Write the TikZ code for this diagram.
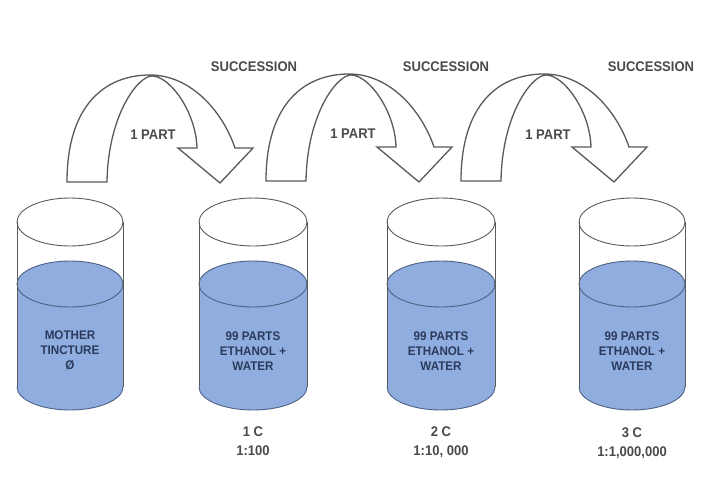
\documentclass[tikz,border=0pt]{standalone}
\usepackage{fontspec}
\newfontfamily\labfont[FakeStretch=0.93]{Liberation Sans}
\definecolor{liquid}{HTML}{8FAEDF}
\definecolor{liqline}{HTML}{4F6185}
\definecolor{glass}{HTML}{5A5A5A}
\definecolor{labgrey}{HTML}{4A4A4A}
\definecolor{navy}{HTML}{2B3A5C}
\tikzset{
  arrowline/.style={draw=glass, line width=1.3pt, line join=miter, fill=white},
  glassline/.style={draw=glass, line width=0.9pt},
  liqedge/.style={draw=liqline, line width=0.9pt},
  lab/.style={font=\labfont\bfseries\fontsize{14}{19}\selectfont, text=labgrey, inner sep=0pt, align=center},
  inlab/.style={font=\labfont\bfseries\fontsize{12.5}{15}\selectfont, text=navy, inner sep=0pt, align=center},
}
\begin{document}
\begin{tikzpicture}[x=1pt,y=-1pt]
\useasboundingbox (0,0) rectangle (720,480);
\fill[white] (0,0) rectangle (720,480);
% beakers
\foreach \i/\cx/\rx in {1/70/53,2/253/54,3/441/54,4/632/53} {
  \fill[liquid] (\cx-\rx,284) rectangle (\cx+\rx,387);
  \fill[liquid] (\cx,284) ellipse[x radius=\rx, y radius=23];
  \fill[liquid] (\cx,387) ellipse[x radius=\rx, y radius=23];
  \draw[liqedge] (\cx,284) ellipse[x radius=\rx, y radius=23];
  \draw[liqedge] (\cx-\rx,387) arc[start angle=180, end angle=0, x radius=\rx, y radius=23];
  \draw[glassline] (\cx,222) ellipse[x radius=\rx, y radius=24];
  \draw[glassline] (\cx-\rx,222) -- (\cx-\rx,387);
  \draw[glassline] (\cx+\rx,222) -- (\cx+\rx,387);
  \coordinate (b\i) at (\cx,222);
}
% beaker texts
\node[inlab] (t1) at (70,350) {MOTHER\\TINCTURE\\Ø};
\node[inlab] (t2) at (253,351) {99 PARTS\\ETHANOL +\\WATER};
\node[inlab] (t3) at (441,351) {99 PARTS\\ETHANOL +\\WATER};
\node[inlab] (t4) at (632,351) {99 PARTS\\ETHANOL +\\WATER};
% dilution labels
\node[lab] (c1) at (253,441) {1 C\\1:100};
\node[lab] (c2) at (441,442) {2 C\\1:10, 000};
\node[lab] (c3) at (632,443) {3 C\\1:1,000,000};
% curved arrows
\foreach \k/\dx/\dy in {1/0/0,2/199/-1,3/394/-1} {
  \begin{scope}[shift={(\dx,\dy)}]
    \draw[arrowline] (67,182) .. controls (67,105) and (105,75) .. (150,75)
      .. controls (190,75) and (222,110) .. (235,148) -- (253,148) -- (220,183)
      -- (178,148) -- (197,148) .. controls (196,112) and (170,76) .. (152,76)
      .. controls (138,76) and (108,115) .. (107,182) -- cycle;
  \end{scope}
}
\node[lab] (s1) at (254,67) {SUCCESSION};
\node[lab] (s2) at (446,67) {SUCCESSION};
\node[lab] (s3) at (651,67) {SUCCESSION};
\node[lab] (p1) at (153,135) {1 PART};
\node[lab] (p2) at (353,134) {1 PART};
\node[lab] (p3) at (548,135) {1 PART};
\end{tikzpicture}
\end{document}
